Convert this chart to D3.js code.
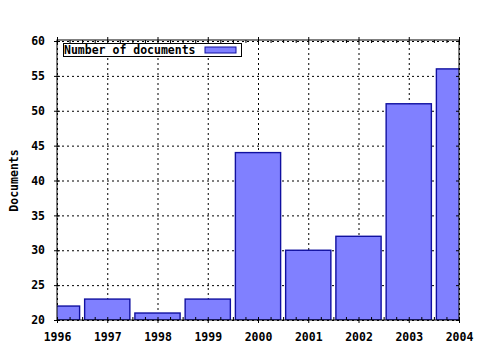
<!DOCTYPE html>
<html>
<head>
<meta charset="utf-8">
<script src="https://cdn.jsdelivr.net/npm/d3@7.9.0/dist/d3.min.js"></script>
<style>
  body { margin: 0; background: #fff; }
  svg text { font-family: "DejaVu Sans Mono", monospace; font-weight: bold; font-size: 11.5px; fill: #000; }
  .grid line { stroke: #000; stroke-dasharray: 2,3; stroke-width: 1; }
  .grid path { display: none; }
</style>
</head>
<body>
<svg id="chart" width="480" height="350"></svg>
<script>
// ---------- Data ----------
const years = [1996, 1997, 1998, 1999, 2000, 2001, 2002, 2003, 2004];
const documents = [22, 23, 21, 23, 44, 30, 32, 51, 56];
const yTicks = [20, 25, 30, 35, 40, 45, 50, 55, 60];
const seriesName = 'Number of documents';
const yTitle = 'Documents';

const svg = d3.select('#chart');
const plot = { left: 57, right: 459, top: 41, bottom: 320 };

const x = d3.scaleLinear().domain([1996, 2004]).range([plot.left, plot.right]);
const y = d3.scaleLinear().domain([20, 60]).range([plot.bottom, plot.top]);

const minorX = d3.range(1996, 2004.01, 0.25);
const barW = x(1996.9) - x(1996);

svg.append('clipPath').attr('id', 'clip')
  .append('rect')
  .attr('x', plot.left).attr('y', plot.top)
  .attr('width', plot.right - plot.left).attr('height', plot.bottom - plot.top);

// ---------- Grid ----------
svg.append('g').attr('class', 'grid')
  .attr('transform', `translate(0,${plot.bottom})`)
  .call(d3.axisBottom(x).tickValues(years).tickFormat('').tickSize(-(plot.bottom - plot.top)));
svg.append('g').attr('class', 'grid')
  .attr('transform', `translate(${plot.left},0)`)
  .call(d3.axisLeft(y).tickValues(yTicks).tickFormat('').tickSize(-(plot.right - plot.left)));

// ---------- Bars ----------
svg.append('g').attr('clip-path', 'url(#clip)')
  .selectAll('rect')
  .data(years)
  .join('rect')
  .attr('x', (d) => x(d) - barW / 2)
  .attr('width', barW)
  .attr('y', (d, i) => y(documents[i]))
  .attr('height', (d, i) => y(20) - y(documents[i]))
  .attr('fill', '#8080ff')
  .attr('stroke', '#1010a0')
  .attr('stroke-width', 1.4);

// ---------- Border ----------
svg.append('rect')
  .attr('x', plot.left).attr('y', plot.top - 1)
  .attr('width', plot.right - plot.left).attr('height', plot.bottom - plot.top + 1)
  .attr('fill', 'none').attr('stroke', '#000');

// ---------- Axes ----------
function styleAxis(g) {
  g.select('.domain').remove();
  g.selectAll('line').attr('stroke', '#000');
  g.selectAll('text').attr('fill', '#000');
}

// bottom
svg.append('g')
  .attr('transform', `translate(0,${plot.bottom})`)
  .call(d3.axisBottom(x).tickValues(years).tickFormat(d3.format('d')).tickSize(3).tickPadding(10))
  .call(styleAxis);
svg.append('g')
  .attr('transform', `translate(0,${plot.bottom})`)
  .call(d3.axisBottom(x).tickValues(minorX).tickFormat('').tickSize(-3))
  .call(styleAxis);

// top (mirror)
svg.append('g')
  .attr('transform', `translate(0,${plot.top - 1})`)
  .call(d3.axisTop(x).tickValues(years).tickFormat('').tickSize(3))
  .call(styleAxis);
svg.append('g')
  .attr('transform', `translate(0,${plot.top - 1})`)
  .call(d3.axisTop(x).tickValues(minorX).tickFormat('').tickSize(-3))
  .call(styleAxis);

// left
svg.append('g')
  .attr('transform', `translate(${plot.left},0)`)
  .call(d3.axisLeft(y).tickValues(yTicks).tickSize(3).tickPadding(9))
  .call(styleAxis);
svg.append('g')
  .attr('transform', `translate(${plot.left},0)`)
  .call(d3.axisLeft(y).tickValues(yTicks).tickFormat('').tickSize(-3))
  .call(styleAxis);

// right (mirror)
svg.append('g')
  .attr('transform', `translate(${plot.right},0)`)
  .call(d3.axisRight(y).tickValues(yTicks).tickFormat('').tickSize(-3))
  .call(styleAxis);

// ---------- Y title ----------
svg.append('text')
  .attr('transform', `translate(18,${(plot.top + plot.bottom) / 2}) rotate(-90)`)
  .attr('text-anchor', 'middle')
  .text(yTitle);

// ---------- Legend ----------
const legend = svg.append('g');
legend.append('rect')
  .attr('x', 63.5).attr('y', 43.5).attr('width', 178).attr('height', 13)
  .attr('fill', '#fff').attr('stroke', '#000');
legend.append('text')
  .attr('x', 64).attr('y', 54)
  .text(seriesName);
legend.append('rect')
  .attr('x', 205).attr('y', 47).attr('width', 31).attr('height', 6)
  .attr('fill', '#8080ff').attr('stroke', '#1010a0');
</script>
</body>
</html>
